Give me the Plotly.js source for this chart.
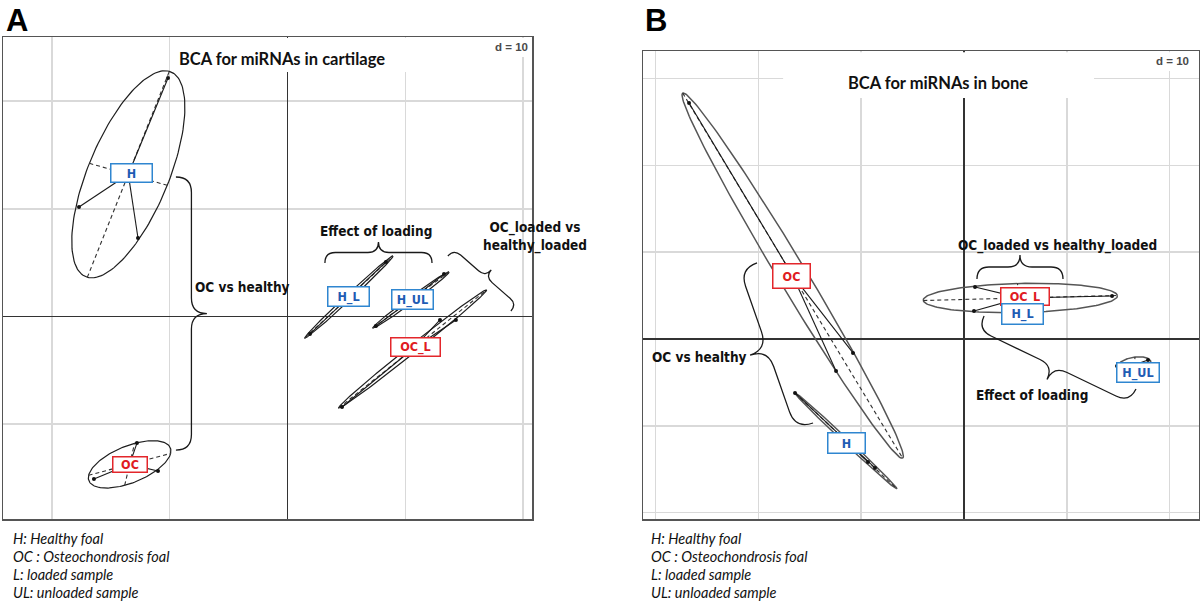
<!DOCTYPE html>
<html>
<head>
<meta charset="utf-8">
<script src="https://cdn.plot.ly/plotly-3.0.1.min.js"></script>
<style>
  html, body { margin: 0; padding: 0; background: #fff; }
  #bca { width: 1200px; height: 602px; }
</style>
</head>
<body>
<div id="bca"></div>
<script>
// BCA on miRNA profiles, one panel per tissue (d = 10 grid)
// each group: sample coordinates + half axes of its inertia ellipse

var cartGroups = ['H', 'OC', 'H_L', 'H_UL', 'OC_L'];
var cartX = [[-10.14, -17.70, -12.69], [-12.78, -16.43, -10.99], [8.36, 5.39, 1.91], [13.29, 10.65, 7.51], [4.63, 12.95, 14.30]];
var cartY = [[22.14, 10.17, 7.29], [-11.75, -15.09, -14.34], [5.06, 2.00, -1.62], [3.95, 1.53, -0.88], [-8.40, -0.32, -0.32]];
var cartMajor = [[3.48, 9.56], [3.48, 1.02], [3.74, 3.81], [3.23, 2.60], [6.28, 5.48]];
var cartMinor = [[3.31, -1.02], [0.42, 1.95], [0.17, -0.19], [0.17, -0.19], [0.21, -0.29]];

var boneGroups = ['OC', 'H', 'OC_L', 'H_L', 'H_UL'];
var boneX = [[-26.75, -10.80, -12.45], [-16.44, -9.34, -8.66], [1.07, 0.97, 14.40], [5.69], [14.88, 17.90, 16.84]];
var boneY = [[27.19, -1.61, -3.69], [-6.22, -14.17, -14.86], [5.99, 3.23, 4.95], [2.88], [-3.11, -2.42, -3.47]];
var boneMajor = [[10.70, -21.03], [4.96, -5.53], [9.44, 0.29], [0, 0], [1.65, 0.23]];
var boneMinor = [[1.17, 0.83], [0.17, 0.21], [-0.29, 1.67], [0, 0], [0.10, 0.92]];

var legendLines = ['H: Healthy foal', 'OC : Osteochondrosis foal', 'L: loaded sample', 'UL: unloaded sample'];

var W = 1200, H = 602;
var NARROW = '"Liberation Sans Narrow", "Arial Narrow", "DejaVu Sans Condensed", sans-serif';
var RED = '#e3262b', BLUE = '#2f86d0';

var panels = [
  { groups: cartGroups, xs: cartX, ys: cartY, major: cartMajor, minor: cartMinor, xa: 'x', ya: 'y',
    ell: '#1e1e1e', ellW: 1.2,
    box: { H: [43, 20], OC: [36, 17], H_L: [43, 21], H_UL: [43, 21], OC_L: [51, 20] },
    shift: { H: [3, 1], OC: [0, 0], H_L: [0, 0], H_UL: [2, 0], OC_L: [3, 2] } },
  { groups: boneGroups, xs: boneX, ys: boneY, major: boneMajor, minor: boneMinor, xa: 'x2', ya: 'y2',
    ell: '#555', ellW: 1.5,
    box: { OC: [39, 26], H: [39, 22], OC_L: [50, 19], H_L: [43, 22], H_UL: [44, 21] },
    shift: { OC: [-1, 0], H: [0, -2], OC_L: [5, 1], H_L: [0, 0], H_UL: [4, -7] } }
];

function mean(a) {
  var s = 0;
  for (var i = 0; i < a.length; i++) s += a[i];
  return s / a.length;
}

var traces = [];
var annotations = [];

panels.forEach(function (p) {
  for (var g = 0; g < p.groups.length; g++) {
    var xs = p.xs[g], ys = p.ys[g];
    var cx = mean(xs), cy = mean(ys);
    var a = p.major[g], b = p.minor[g];

    if (a[0] || a[1]) {
      var ex = [], ey = [];
      for (var k = 0; k <= 160; k++) {
        var t = 2 * Math.PI * k / 160;
        ex.push(cx + a[0] * Math.cos(t) + b[0] * Math.sin(t));
        ey.push(cy + a[1] * Math.cos(t) + b[1] * Math.sin(t));
      }
      traces.push({ x: ex, y: ey, xaxis: p.xa, yaxis: p.ya, mode: 'lines', type: 'scatter',
        line: { color: p.ell, width: p.ellW }, hoverinfo: 'skip' });
      traces.push({
        x: [cx - a[0], cx + a[0], null, cx - b[0], cx + b[0]],
        y: [cy - a[1], cy + a[1], null, cy - b[1], cy + b[1]],
        xaxis: p.xa, yaxis: p.ya, mode: 'lines', type: 'scatter',
        line: { color: '#333', width: 1.1, dash: '4px,3px' }, hoverinfo: 'skip' });
    }

    var sx = [], sy = [];
    for (var i = 0; i < xs.length; i++) {
      sx.push(cx, xs[i], null);
      sy.push(cy, ys[i], null);
    }
    traces.push({ x: sx, y: sy, xaxis: p.xa, yaxis: p.ya, mode: 'lines', type: 'scatter',
      line: { color: '#1a1a1a', width: 1.1 }, hoverinfo: 'skip' });
    traces.push({ x: xs, y: ys, xaxis: p.xa, yaxis: p.ya, mode: 'markers', type: 'scatter',
      marker: { color: '#111', size: 4 }, hoverinfo: 'skip' });

    var name = p.groups[g];
    var isOC = name.indexOf('OC') === 0;
    var bx = p.box[name], sh = p.shift[name];
    annotations.push({
      x: cx, y: cy, xref: p.xa, yref: p.ya, showarrow: false,
      text: '<b>' + name + '</b>',
      font: { family: NARROW, size: 12.5, color: isOC ? '#e01b22' : '#1f5cb4' },
      bgcolor: '#fff', bordercolor: isOC ? RED : BLUE, borderwidth: 1.5, borderpad: 0,
      width: bx[0] - 3, height: bx[1] - 3, xshift: sh[0], yshift: sh[1]
    });
  }
});

var layout = {
  width: W, height: H,
  margin: { l: 0, r: 0, t: 0, b: 0 },
  paper_bgcolor: '#fff', plot_bgcolor: '#fff',
  showlegend: false,
  hovermode: false
};

function axis(domain, range) {
  return {
    domain: domain, range: range, autorange: false, fixedrange: true,
    tick0: 0, dtick: 10, showticklabels: false, ticks: '',
    showgrid: true, gridcolor: '#d9d9d9', gridwidth: 1.5,
    zeroline: true, zerolinecolor: '#333', zerolinewidth: 1.3,
    showline: true, mirror: true, linecolor: '#555', linewidth: 1.5
  };
}

layout.xaxis = axis([3 / W, 532 / W], [-24.15, 20.76]);
layout.yaxis = axis([1 - 519 / H, 1 - 37 / H], [-18.80, 25.95]);
layout.xaxis2 = axis([643 / W, 1199 / W], [-31.23, 22.86]);
layout.yaxis2 = axis([1 - 519 / H, 1 - 51 / H], [-20.74, 33.18]);
layout.xaxis2.anchor = 'y2';
layout.yaxis2.anchor = 'x2';

// white patches behind the titles and the "d = 10" tags
var patches = [
  ['x', 'y', -9.3, 11.25, 22.7, 25.85],
  ['x', 'y', 17.02, 20.66, 24.09, 25.85],
  ['x2', 'y2', -17.6, 12.65, 27.76, 33.05],
  ['x2', 'y2', 18.09, 22.75, 30.88, 33.05]
];
var shapes = patches.map(function (r) {
  return { type: 'rect', xref: r[0], yref: r[1], x0: r[2], x1: r[3], y0: r[4], y1: r[5],
    fillcolor: '#fff', line: { width: 0 }, layer: 'between' };
});

// curly braces: start, end (data units), depth in px, side of the tip
var braces = [
  ['x', 'y', -9.47, 12.95, -9.47, -12.40, 31, -1],
  ['x', 'y', 3.18, 4.97, 12.27, 4.97, 21, -1],
  ['x', 'y', 13.62, 5.62, 18.97, 0.51, 18, -1],
  ['x2', 'y2', 1.26, 6.91, 9.63, 6.91, 24, -1],
  ['x2', 'y2', -20.14, 8.76, -14.69, -9.68, 37, 1],
  ['x2', 'y2', 1.95, 2.65, 16.73, -5.76, 30, 1]
];

function pxScale(xa, ya) {
  var ax = layout[xa === 'x' ? 'xaxis' : 'xaxis2'];
  var ay = layout[ya === 'y' ? 'yaxis' : 'yaxis2'];
  return [
    (ax.domain[1] - ax.domain[0]) * W / (ax.range[1] - ax.range[0]),
    (ay.domain[1] - ay.domain[0]) * H / (ay.range[1] - ay.range[0])
  ];
}

braces.forEach(function (br) {
  var s = pxScale(br[0], br[1]);
  var P0 = [br[2] * s[0], -br[3] * s[1]], P1 = [br[4] * s[0], -br[5] * s[1]];
  var dx = P1[0] - P0[0], dy = P1[1] - P0[1], L = Math.sqrt(dx * dx + dy * dy);
  var u = [dx / L, dy / L];
  var n = [-u[1] * br[7], u[0] * br[7]];
  var w = br[6] / 2;
  var M = [(P0[0] + P1[0]) / 2, (P0[1] + P1[1]) / 2];
  function pt(base, ku, kn) {
    var X = base[0] + u[0] * ku + n[0] * kn, Y = base[1] + u[1] * ku + n[1] * kn;
    return (X / s[0]).toFixed(4) + ',' + (-Y / s[1]).toFixed(4);
  }
  var path = 'M' + pt(P0, 0, 0) +
    ' Q' + pt(P0, 0, w) + ' ' + pt(P0, w, w) +
    ' L' + pt(M, -w, w) +
    ' Q' + pt(M, 0, w) + ' ' + pt(M, 0, 2 * w) +
    ' Q' + pt(M, 0, w) + ' ' + pt(M, w, w) +
    ' L' + pt(P1, -w, w) +
    ' Q' + pt(P1, 0, w) + ' ' + pt(P1, 0, 0);
  shapes.push({ type: 'path', xref: br[0], yref: br[1], path: path,
    line: { color: '#1a1a1a', width: 1.3 }, layer: 'above' });
});
layout.shapes = shapes;

function txt(px, py, text, font, extra) {
  var a = { xref: 'paper', yref: 'paper', x: px / W, y: 1 - py / H, text: text,
    showarrow: false, font: font, xanchor: 'center', yanchor: 'middle' };
  for (var k in extra) a[k] = extra[k];
  annotations.push(a);
}

var bold = { family: '"Liberation Sans", Arial, sans-serif', size: 31, color: '#000' };
txt(17, 21, '<b>A</b>', bold);
txt(656, 21, '<b>B</b>', bold);

var titleFont = { family: 'Lato, "Open Sans", sans-serif', size: 16.5, color: '#111' };
txt(282, 59, '<b>BCA for miRNAs in cartilage</b>', titleFont);
txt(938, 83, '<b>BCA for miRNAs in bone</b>', titleFont);

var dFont = { family: '"Liberation Sans", Arial, sans-serif', size: 11.5, color: '#4a4a4a' };
txt(511, 47, '<b>d = 10</b>', dFont);
txt(1172, 61, '<b>d = 10</b>', dFont);

var noteFont = { family: NARROW, size: 13.5, color: '#111' };
txt(242, 287, '<b>OC vs healthy</b>', noteFont);
txt(376, 231, '<b>Effect of loading</b>', noteFont);
txt(535, 236, '<b>OC_loaded vs<br>healthy_loaded</b>', noteFont);
txt(1057, 245, '<b>OC_loaded vs healthy_loaded</b>', noteFont);
txt(699, 357, '<b>OC vs healthy</b>', noteFont);
txt(1032, 395, '<b>Effect of loading</b>', noteFont);

var legFont = { family: 'Lato, "Open Sans", sans-serif', size: 14.5, color: '#111' };
var legY = [538, 556, 574, 592];
legendLines.forEach(function (s, i) {
  txt(11, legY[i], '<i>' + s + '</i>', legFont, { xanchor: 'left' });
  txt(649, legY[i], '<i>' + s + '</i>', legFont, { xanchor: 'left' });
});

layout.annotations = annotations;

Plotly.newPlot('bca', traces, layout, { displayModeBar: false, staticPlot: true });
</script>
</body>
</html>
